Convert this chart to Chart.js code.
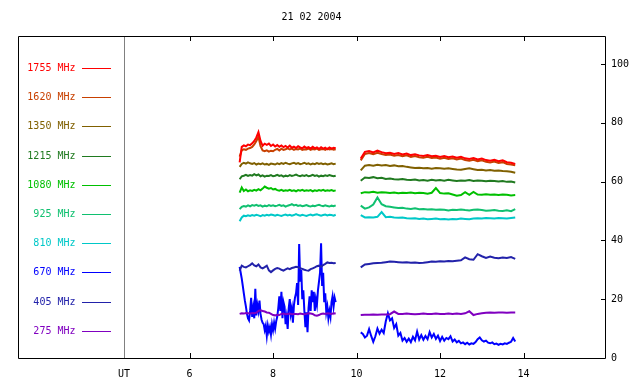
<!DOCTYPE html>
<html>
<head>
<meta charset="utf-8">
<script src="https://cdn.jsdelivr.net/npm/chart.js@4/dist/chart.umd.min.js"></script>
<style>
html,body{margin:0;padding:0;background:#fff;}
canvas{display:block;}
</style>
</head>
<body>
<canvas id="c" width="640" height="384"></canvas>
<script>
// ---- data ----
const chartTitle = "21 02 2004";
const freqLabels = ["1755 MHz","1620 MHz","1350 MHz","1215 MHz","1080 MHz","925 MHz","810 MHz","670 MHz","405 MHz","275 MHz"];
const xTickValues = [6, 8, 10, 12, 14];
const yTickValues = [0, 20, 40, 60, 80, 100];

const seg1Times = [7.20,7.25,7.30,7.35,7.40,7.45,7.50,7.55,7.60,7.65,7.70,7.75,7.80,7.85,7.90,7.95,8.00,8.05,8.10,8.15,8.20,8.25,8.30,8.35,8.40,8.45,8.50,8.55,8.60,8.65,8.70,8.75,8.80,8.85,8.90,8.95,9.00,9.05,9.10,9.15,9.20,9.25,9.30,9.35,9.40,9.45,9.50];
const seg2Times = [10.1,10.2,10.3,10.4,10.5,10.6,10.7,10.8,10.9,11.0,11.1,11.2,11.3,11.4,11.5,11.6,11.7,11.8,11.9,12.0,12.1,12.2,12.3,12.4,12.5,12.6,12.7,12.8,12.9,13.0,13.1,13.2,13.3,13.4,13.5,13.6,13.7,13.8];

const f1755a = [66.5,71.8,72.3,72.0,72.6,72.4,73.0,73.8,75.0,76.8,73.8,72.2,72.9,72.5,72.9,72.1,72.6,71.9,72.4,71.8,72.3,71.7,72.1,71.6,72.2,71.5,71.9,71.4,72.0,71.6,71.3,71.9,71.4,71.7,71.2,71.8,71.3,71.6,71.1,71.7,71.2,71.5,71.0,71.6,71.2,71.5,71.3];
const f1755b = [67.8,70.1,70.4,69.9,70.5,70.0,69.6,69.8,69.4,69.7,69.2,69.5,69.0,69.3,68.9,68.7,69.0,68.6,68.8,68.4,68.7,68.3,68.5,68.1,68.4,67.9,67.7,68.0,67.5,67.8,67.3,67.1,67.4,66.9,67.2,66.6,66.4,66.0];
const f1620a = [68.5,70.6,71.0,70.8,71.2,71.4,71.8,72.6,73.8,75.2,72.0,70.6,70.3,70.6,70.2,70.5,70.3,70.8,71.1,70.6,71.2,70.8,71.0,71.3,70.9,71.2,70.8,71.1,70.9,71.2,70.8,71.0,70.9,71.2,70.8,71.1,70.9,71.2,70.8,71.0,71.1,70.8,71.2,70.9,71.1,70.8,71.0];
const f1620b = [67.2,69.4,69.7,69.3,69.8,69.4,69.0,69.2,68.8,69.0,68.6,68.9,68.4,68.7,68.3,68.1,68.4,68.0,68.2,67.8,68.1,67.7,67.9,67.5,67.8,67.3,67.1,67.4,66.9,67.2,66.7,66.5,66.8,66.3,66.6,66.0,65.8,65.5];
const f1350a = [65.0,66.0,66.4,66.1,66.5,66.2,66.0,66.3,65.8,66.1,65.9,66.2,65.8,66.0,65.7,66.1,66.0,65.8,66.2,65.9,66.3,66.0,66.4,66.1,65.9,66.2,66.4,66.0,66.3,65.9,66.1,66.4,66.0,66.2,65.8,66.1,65.9,66.3,66.0,66.2,65.9,66.1,65.8,66.0,66.2,65.9,66.1];
const f1350b = [63.8,65.4,65.6,65.4,65.7,65.5,65.6,65.3,65.5,65.2,65.3,65.0,64.8,64.6,64.7,64.5,64.6,64.4,64.6,64.5,64.4,64.5,64.3,64.1,64.0,64.3,64.5,64.2,63.9,64.0,63.8,63.9,63.7,63.8,63.6,63.5,63.3,63.0];
const f1215a = [60.8,61.8,62.0,62.3,61.9,62.2,62.0,62.5,62.1,62.4,61.8,62.1,61.7,62.0,61.9,62.2,61.8,62.0,62.3,61.9,62.1,61.7,62.0,61.8,62.2,61.9,62.1,62.4,62.0,61.8,62.1,61.9,62.2,61.8,62.0,62.3,61.9,62.1,61.7,62.0,61.8,62.1,61.9,62.2,62.0,61.8,62.0];
const f1215b = [60.3,61.4,61.2,61.5,61.1,61.3,60.9,61.0,60.8,60.7,60.9,60.6,60.5,60.7,60.4,60.5,60.3,60.6,60.4,60.5,60.3,60.6,60.4,60.2,60.4,60.3,60.5,60.2,60.4,60.3,60.1,60.3,60.2,60.0,60.2,59.9,60.0,59.7];
const f1080a = [56.2,58.0,56.8,57.3,56.7,57.0,56.8,57.2,56.9,57.4,57.0,57.6,58.3,57.9,57.6,57.8,57.3,57.5,57.1,56.9,57.2,56.8,57.0,56.9,57.2,56.8,57.0,56.7,57.1,56.9,57.2,56.8,57.0,56.9,57.1,56.7,57.0,56.8,57.1,56.9,57.2,56.8,57.0,56.9,57.1,56.8,57.0];
const f1080b = [56.0,56.4,56.3,56.5,56.2,56.4,56.3,56.1,56.3,56.0,56.2,56.1,56.3,56.0,56.2,56.1,55.9,56.2,57.8,56.1,55.9,56.0,55.6,55.2,55.4,56.4,55.5,56.5,55.6,55.5,55.7,55.5,55.6,55.4,55.6,55.5,55.3,55.4];
const f925a = [50.6,51.4,51.7,51.5,51.9,51.6,52.0,51.8,52.1,51.7,51.9,51.5,51.8,51.6,52.0,51.7,51.9,51.6,51.8,52.1,51.7,51.9,51.5,51.8,52.0,52.3,51.9,52.1,51.7,51.9,51.6,51.8,52.0,51.7,51.5,51.8,51.6,51.9,52.1,51.8,51.6,51.9,51.7,51.5,51.8,51.6,51.9];
const f925b = [51.8,50.8,51.2,52.2,54.6,52.3,51.6,51.4,51.2,51.0,51.1,50.8,50.7,50.9,50.6,50.7,50.5,50.6,50.4,50.5,50.4,50.2,50.4,50.3,50.5,50.3,50.2,50.4,50.5,50.3,50.1,50.2,50.3,50.1,50.0,50.2,49.9,50.6];
const f810a = [46.5,47.8,48.4,48.2,48.5,48.3,48.6,48.4,48.7,48.5,48.2,48.6,48.4,48.7,48.5,48.8,48.6,48.4,48.7,48.5,48.3,48.6,48.8,48.5,48.7,48.4,48.6,48.9,48.6,48.4,48.7,48.5,48.3,48.6,48.8,48.5,48.7,48.9,48.6,48.4,48.6,48.8,48.5,48.7,48.6,48.4,48.7];
const f810b = [48.6,47.8,47.9,47.8,48.0,49.6,47.9,48.0,47.8,47.7,47.8,47.5,47.4,47.5,47.3,47.4,47.2,47.3,47.4,47.2,47.3,47.1,47.3,47.2,47.4,47.3,47.2,47.4,47.5,47.4,47.6,47.5,47.4,47.6,47.5,47.4,47.6,47.8];
const f405a = [29.7,31.4,31.0,30.8,31.2,31.6,32.2,31.5,31.2,31.8,30.8,30.5,30.9,31.4,29.8,29.2,29.8,30.3,30.6,30.4,30.0,29.7,30.1,30.5,30.2,30.6,30.8,31.0,30.9,30.5,30.3,30.0,29.8,29.7,30.2,30.5,30.8,31.2,31.4,31.0,31.6,32.0,32.5,32.3,32.4,32.2,32.3];
const f405b = [30.8,31.8,32.0,32.2,32.3,32.4,32.6,32.8,32.7,32.6,32.5,32.6,32.4,32.5,32.3,32.4,32.6,32.8,32.7,32.9,32.8,33.0,32.9,33.1,33.2,34.2,33.6,33.4,35.3,34.6,34.0,34.5,34.1,33.9,34.2,34.0,34.3,33.7];
const f275a = [15.0,15.2,15.1,15.3,15.2,15.1,15.3,15.2,15.4,16.0,16.2,16.0,15.8,15.5,15.4,15.0,14.6,14.5,14.7,14.6,15.0,15.1,14.9,15.0,15.1,14.9,15.0,15.0,14.9,15.1,15.0,14.9,15.0,15.2,15.1,15.0,14.5,14.4,14.6,15.0,15.1,15.0,15.2,15.1,15.0,15.2,15.1];
const f275b = [14.6,14.7,14.7,14.8,14.7,14.8,14.8,14.9,15.8,15.0,15.0,15.1,15.0,14.9,15.0,15.1,15.0,15.0,15.1,15.0,15.0,15.1,15.0,15.1,15.0,15.2,15.9,14.6,15.0,15.2,15.4,15.5,15.4,15.5,15.5,15.4,15.5,15.5];

const f670Times1 = [7.200,7.225,7.250,7.275,7.300,7.325,7.350,7.375,7.400,7.425,7.450,7.475,7.500,7.525,7.550,7.575,7.600,7.625,7.650,7.675,7.700,7.725,7.750,7.775,7.800,7.825,7.850,7.875,7.900,7.925,7.950,7.975,
8.000,8.025,8.050,8.075,8.100,8.125,8.150,8.175,8.200,8.225,8.250,8.275,8.300,8.325,8.350,8.375,8.400,8.425,8.450,8.475,8.500,8.525,8.550,8.575,8.600,8.625,8.650,8.675,8.700,8.725,8.750,8.775,8.800,8.825,8.850,8.875,8.900,8.925,8.950,8.975,
9.000,9.025,9.050,9.075,9.100,9.125,9.150,9.175,9.200,9.225,9.250,9.275,9.300,9.325,9.350,9.375,9.400,9.425,9.450,9.475,9.500];
const f670a = [31,29,27,24.5,22,19.5,17.5,15,13.5,12.8,
16,20.5,14,17,13.5,23.5,14.5,18,16,19.5,
15,13,12,11.5,9.5,11,7.5,11,9,10.5,
8,11.5,9.5,12,10,12.5,14,17,21,16,
22.5,13.5,19,17.5,11.5,14,9.9,17,20,15,
17,12,18,20.5,22,25.5,18,38.8,26,30,
20,23,16,10.5,15.5,8.8,17,21,16,23,
19,22.5,16,20,18,23,26,29,39,24.5,
29,19,22,15.5,17.5,13.5,16,14,19,21,
17.5,20.5,19];
const f670Times2 = [10.10,10.15,10.20,10.25,10.30,10.35,10.40,10.45,10.50,10.55,10.60,10.65,10.70,10.75,10.80,10.85,10.90,10.95,
11.00,11.05,11.10,11.15,11.20,11.25,11.30,11.35,11.40,11.45,11.50,11.55,11.60,11.65,11.70,11.75,11.80,11.85,11.90,11.95,
12.00,12.05,12.10,12.15,12.20,12.25,12.30,12.35,12.40,12.45,12.50,12.55,12.60,12.65,12.70,12.75,12.80,12.85,12.90,12.95,
13.00,13.05,13.10,13.15,13.20,13.25,13.30,13.35,13.40,13.45,13.50,13.55,13.60,13.65,13.70,13.75,13.80];
const f670b = [8.7,8.2,7.0,7.6,9.8,7.5,5.5,7.4,10.0,8.3,
9.6,8.5,12.5,15.2,12.8,13.5,10.2,11.5,7.6,8.5,
5.9,6.8,5.5,6.6,5.4,7.2,6.0,9.0,6.3,7.8,
6.2,7.5,6.4,8.8,7.0,8.2,6.5,7.6,5.8,7.2,
5.9,6.8,6.4,7.4,5.6,6.3,5.3,5.8,5.0,5.3,
4.7,5.2,4.6,5.0,4.8,5.4,6.4,7.0,6.0,5.6,
5.9,5.2,5.0,5.3,4.7,4.9,4.5,4.8,4.6,5.0,
4.8,5.2,5.5,6.8,5.6];

const seriesColors = ["#ff0000","#c84000","#806000","#207a20","#00c000","#10c070","#00c8c8","#0000ff","#2222aa","#8000c0"];

// ---- build ----
function pts(tA, vA, tB, vB) {
  const out = tA.map((t, i) => ({x: t, y: vA[i]}));
  out.push({x: (tA[tA.length - 1] + tB[0]) / 2, y: null});
  tB.forEach((t, i) => out.push({x: t, y: vB[i]}));
  return out;
}
const seriesData = [
  pts(seg1Times, f1755a, seg2Times, f1755b),
  pts(seg1Times, f1620a, seg2Times, f1620b),
  pts(seg1Times, f1350a, seg2Times, f1350b),
  pts(seg1Times, f1215a, seg2Times, f1215b),
  pts(seg1Times, f1080a, seg2Times, f1080b),
  pts(seg1Times, f925a, seg2Times, f925b),
  pts(seg1Times, f810a, seg2Times, f810b),
  pts(f670Times1, f670a, f670Times2, f670b),
  pts(seg1Times, f405a, seg2Times, f405b),
  pts(seg1Times, f275a, seg2Times, f275b)
];
const drawOrder = [0, 1, 2, 3, 4, 5, 6, 9, 8, 7];
const datasets = freqLabels.map((lab, i) => ({
  label: lab,
  data: seriesData[i],
  borderColor: seriesColors[i],
  backgroundColor: seriesColors[i],
  borderWidth: 2,
  pointRadius: 0,
  tension: 0,
  spanGaps: false,
  order: drawOrder[i]
}));

const FONT = "10px 'DejaVu Sans Mono', 'Liberation Mono', monospace";

const framePlugin = {
  id: 'frame',
  afterDraw(chart) {
    const ctx = chart.ctx;
    const a = chart.chartArea;
    const xs = chart.scales.x, ys = chart.scales.y;
    const L = 18;
    ctx.save();
    ctx.lineWidth = 1;
    ctx.strokeStyle = '#000';
    ctx.beginPath();
    ctx.moveTo(L + 0.5, a.top + 0.5); ctx.lineTo(a.right + 0.5, a.top + 0.5);
    ctx.lineTo(a.right + 0.5, a.bottom + 0.5); ctx.lineTo(L + 0.5, a.bottom + 0.5);
    ctx.closePath();
    ctx.stroke();
    // divider
    ctx.strokeStyle = '#808080';
    ctx.beginPath();
    ctx.moveTo(Math.round(a.left) + 0.5, a.top + 1); ctx.lineTo(Math.round(a.left) + 0.5, a.bottom);
    ctx.stroke();
    // x ticks (inward, top and bottom)
    ctx.strokeStyle = '#000';
    ctx.beginPath();
    xTickValues.forEach(v => {
      const px = Math.round(xs.getPixelForValue(v)) + 0.5;
      ctx.moveTo(px, a.bottom); ctx.lineTo(px, a.bottom - 5);
      ctx.moveTo(px, a.top); ctx.lineTo(px, a.top + 5);
    });
    yTickValues.forEach(v => {
      const py = Math.round(ys.getPixelForValue(v)) + 0.5;
      ctx.moveTo(a.right - 4, py); ctx.lineTo(a.right, py);
    });
    ctx.stroke();
    // title
    ctx.fillStyle = '#000';
    ctx.font = FONT;
    ctx.textAlign = 'center';
    ctx.textBaseline = 'middle';
    ctx.fillText(chartTitle, (L + a.right) / 2, 17);
    // legend
    ctx.textAlign = 'right';
    freqLabels.forEach((lab, i) => {
      const y = Math.round(68 + i * 29.2);
      ctx.fillStyle = seriesColors[i];
      ctx.fillText(lab, 75.5, y);
      ctx.strokeStyle = seriesColors[i];
      ctx.beginPath();
      ctx.moveTo(82, y + 0.5); ctx.lineTo(111, y + 0.5);
      ctx.stroke();
    });
    ctx.restore();
  }
};

new Chart(document.getElementById('c'), {
  type: 'line',
  data: { datasets },
  options: {
    responsive: false,
    animation: false,
    devicePixelRatio: 1,
    layout: { padding: { left: 124, top: 36, right: 0, bottom: 0 } },
    plugins: { legend: { display: false }, title: { display: false }, tooltip: { enabled: false } },
    scales: {
      x: {
        type: 'linear', position: 'bottom', min: 4.43, max: 15.95,
        grid: { display: false, drawTicks: false },
        border: { display: false },
        afterBuildTicks(scale) { scale.ticks = [4.43].concat(xTickValues).map(v => ({value: v})); },
        afterFit(scale) { scale.height = 26; },
        ticks: {
          autoSkip: false, maxRotation: 0, padding: 10, color: '#000',
          font: { family: "'DejaVu Sans Mono', 'Liberation Mono', monospace", size: 10 },
          callback: (v) => (v < 5 ? 'UT' : String(v))
        }
      },
      y: {
        type: 'linear', position: 'right', min: 0, max: 109.5,
        grid: { display: false, drawTicks: false },
        border: { display: false },
        afterBuildTicks(scale) { scale.ticks = yTickValues.map(v => ({value: v})); },
        afterFit(scale) { scale.width = 35; },
        ticks: {
          padding: 6, color: '#000',
          font: { family: "'DejaVu Sans Mono', 'Liberation Mono', monospace", size: 10 }
        }
      }
    }
  },
  plugins: [framePlugin]
});
</script>
</body>
</html>
